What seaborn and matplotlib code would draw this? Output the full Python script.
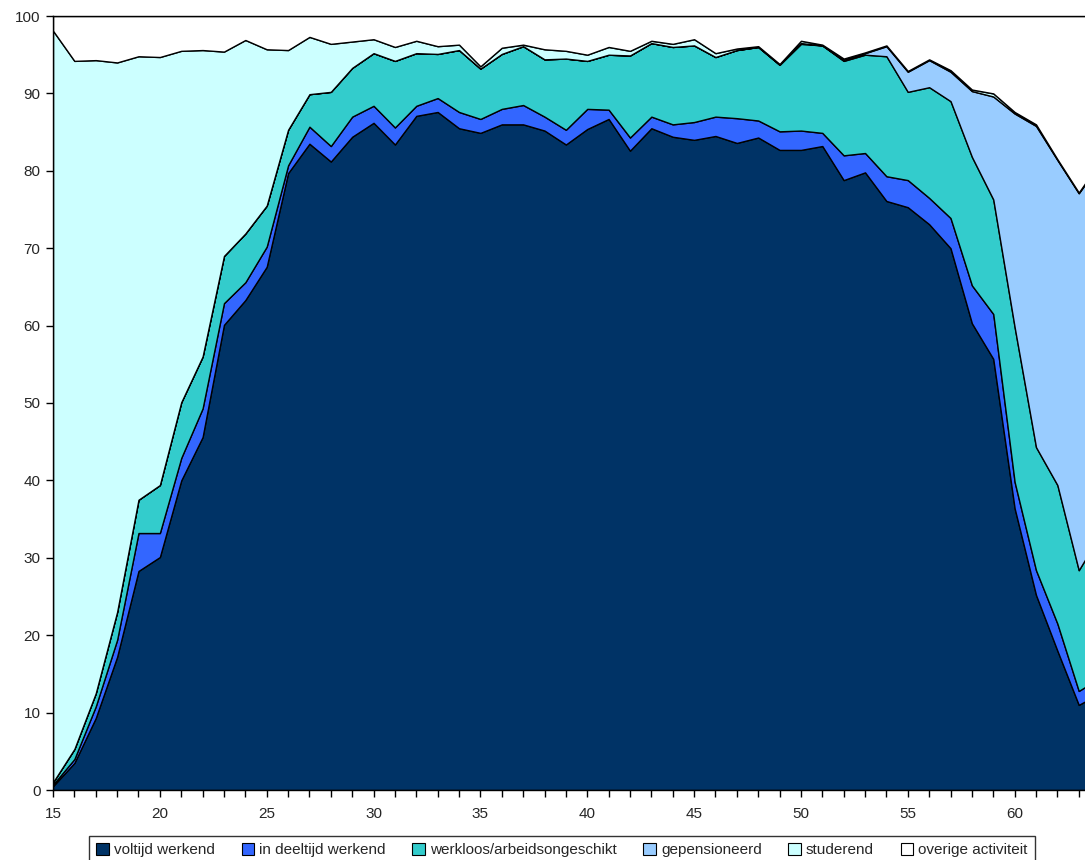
import numpy as np
import matplotlib
matplotlib.use("Agg")
import matplotlib.pyplot as plt
from matplotlib.patches import Patch
from matplotlib.ticker import MultipleLocator
import seaborn as sns

ages = list(range(15, 65))

voltijd = [0.5, 3.5, 9.3, 17.2, 28.3, 30.1, 40.0, 45.6, 60.1, 63.3,
           67.6, 79.7, 83.5, 81.2, 84.4, 86.2, 83.4, 87.1, 87.6, 85.5,
           84.9, 86.0, 86.0, 85.2, 83.4, 85.4, 86.7, 82.6, 85.5, 84.4,
           84.0, 84.5, 83.6, 84.3, 82.7, 82.7, 83.2, 78.8, 79.8, 76.1,
           75.3, 73.1, 70.0, 60.3, 55.7, 36.4, 25.2, 18.0, 11.0, 12.5]
deeltijd = [0.2, 0.5, 1.5, 2.2, 4.9, 3.1, 2.9, 3.7, 2.8, 2.3,
            2.6, 1.0, 2.2, 2.0, 2.6, 2.2, 2.2, 1.3, 1.8, 2.1,
            1.8, 2.0, 2.5, 1.8, 1.9, 2.6, 1.2, 1.7, 1.5, 1.6,
            2.3, 2.5, 3.2, 2.2, 2.4, 2.5, 1.7, 3.2, 2.5, 3.2,
            3.5, 3.4, 3.9, 4.9, 5.8, 3.4, 3.2, 3.5, 1.8, 2.0]
werkloos = [0.3, 1.3, 1.7, 3.6, 4.3, 6.2, 7.2, 6.7, 6.1, 6.3,
            5.3, 4.6, 4.2, 7.0, 6.3, 6.8, 8.6, 6.8, 5.7, 8.0,
            6.5, 7.1, 7.6, 7.4, 9.2, 6.2, 7.1, 10.6, 9.5, 10.0,
            9.9, 7.7, 8.8, 9.5, 8.6, 11.2, 11.3, 12.2, 12.7, 15.5,
            11.4, 14.3, 15.1, 16.6, 14.8, 20.0, 15.9, 17.9, 15.6, 18.5]
gepensioneerd = [0.0, 0.0, 0.0, 0.0, 0.0, 0.0, 0.0, 0.0, 0.0, 0.0,
                 0.0, 0.0, 0.0, 0.0, 0.0, 0.0, 0.0, 0.0, 0.0, 0.0,
                 0.0, 0.0, 0.0, 0.0, 0.0, 0.0, 0.0, 0.0, 0.0, 0.0,
                 0.0, 0.0, 0.0, 0.0, 0.0, 0.1, 0.0, 0.1, 0.2, 1.3,
                 2.6, 3.5, 3.8, 8.5, 13.3, 27.6, 41.5, 42.0, 48.7, 48.0]
studerend = [97.1, 88.9, 81.8, 71.0, 57.3, 55.3, 45.4, 39.6, 26.4, 25.0,
             20.2, 10.3, 7.4, 6.2, 3.4, 1.8, 1.8, 1.6, 1.0, 0.7,
             0.3, 0.8, 0.2, 1.3, 1.0, 0.8, 1.0, 0.6, 0.3, 0.4,
             0.8, 0.5, 0.2, 0.1, 0.1, 0.3, 0.1, 0.2, 0.1, 0.1,
             0.1, 0.1, 0.2, 0.2, 0.4, 0.2, 0.2, 0.1, 0.1, 0.2]
overige = [1.9, 5.8, 5.7, 6.0, 5.2, 5.3, 4.5, 4.4, 4.6, 3.1,
           4.3, 4.4, 2.7, 3.6, 3.3, 3.0, 4.0, 3.2, 3.9, 3.7,
           6.5, 4.1, 3.7, 4.3, 4.5, 5.0, 4.0, 4.5, 3.2, 3.6,
           3.0, 4.8, 4.2, 3.9, 6.2, 3.2, 3.7, 5.5, 4.7, 3.8,
           7.1, 5.6, 7.0, 9.5, 10.0, 12.4, 14.0, 18.5, 22.8, 18.8]

labels = ["voltijd werkend", "in deeltijd werkend", "werkloos/arbeidsongeschikt",
          "gepensioneerd", "studerend", "overige activiteit"]
colors = ["#003366", "#3366FF", "#33CCCC", "#99CCFF", "#CCFFFF", "#FFFFFF"]

sns.set_style("white")
plt.rcParams["font.family"] = ["Liberation Sans", "DejaVu Sans"]

fig = plt.figure(figsize=(10.85, 8.6), dpi=100)
ax = fig.add_axes([53 / 1085, 1 - 790 / 860, 1 - 53 / 1085 + 0.01, (790 - 16) / 860])

ax.stackplot(ages, voltijd, deeltijd, werkloos, gepensioneerd, studerend, overige,
             colors=colors, edgecolor="black", linewidth=1.0)

ax.set_xlim(15, 63.8)
ax.set_ylim(0, 100)
ax.xaxis.set_major_locator(MultipleLocator(5))
ax.xaxis.set_minor_locator(MultipleLocator(1))
ax.yaxis.set_major_locator(MultipleLocator(10))
ax.tick_params(axis="x", which="both", direction="out", length=5, width=1,
               color="black", bottom=True, labelsize=11, pad=7)
ax.tick_params(axis="y", which="both", direction="out", length=5, width=1,
               color="black", left=True, labelsize=11, pad=4)
for side in ["left", "bottom", "top"]:
    ax.spines[side].set_visible(True)
    ax.spines[side].set_color("black")
    ax.spines[side].set_linewidth(1.0)
ax.spines["right"].set_visible(False)

handles = [Patch(facecolor=c, edgecolor="black", linewidth=0.8) for c in colors]
leg = fig.legend(handles, labels, loc="upper center", bbox_to_anchor=(0.518, 1 - 836 / 860),
                 ncol=6, frameon=True, fancybox=False, fontsize=11,
                 handlelength=0.8, handleheight=0.8, handletextpad=0.35,
                 columnspacing=1.75, borderpad=0.45, borderaxespad=0.0)
leg.get_frame().set_edgecolor("black")
leg.get_frame().set_linewidth(1.0)

fig.savefig("out.png", dpi=100)
